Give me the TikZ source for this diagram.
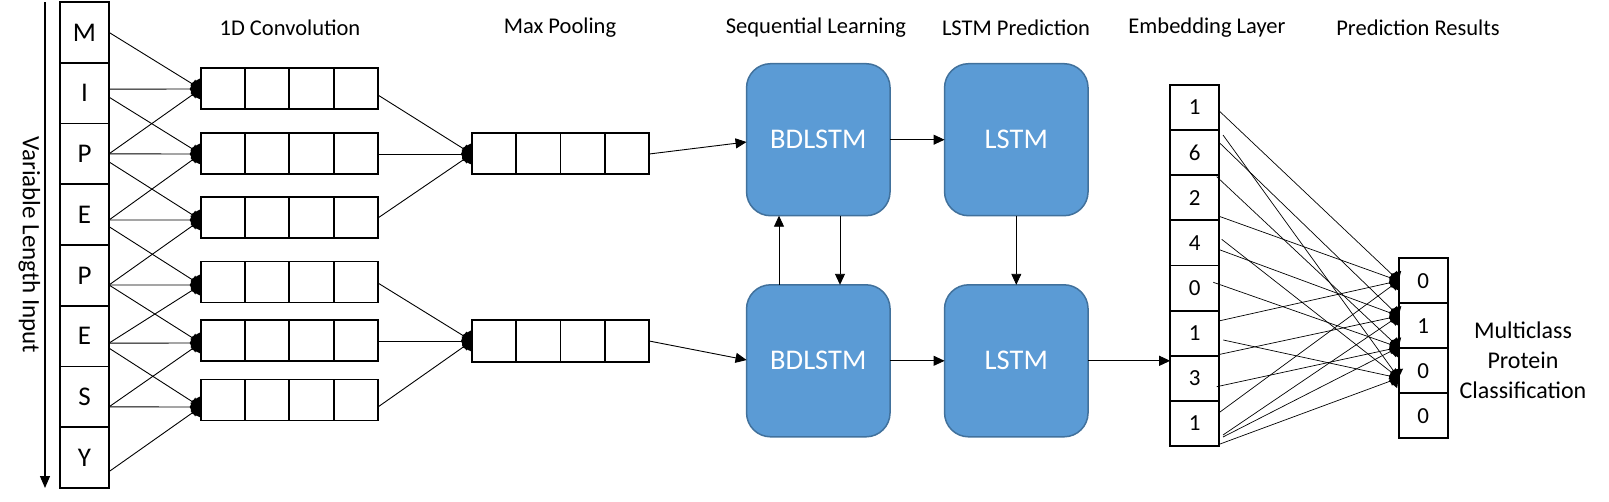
\documentclass[tikz,border=0pt]{standalone}
\usepackage{fontspec}
\setmainfont{Carlito}
\usetikzlibrary{arrows.meta,calc,decorations.markings}
\definecolor{boxblue}{HTML}{5B9BD5}
\definecolor{boxedge}{HTML}{41719C}
\begin{document}
\begin{tikzpicture}[x=1pt,y=-1pt,
  txt/.style={font=\fontsize{22.5}{27}\selectfont, inner sep=0pt},
  incell/.style={draw, line width=1.8pt, inner sep=0pt, outer sep=0pt, minimum width=49pt, minimum height=60.75pt, font=\fontsize{27}{30}\selectfont},
  emcell/.style={draw, line width=1.8pt, inner sep=0pt, outer sep=0pt, minimum width=49pt, minimum height=45.1pt, font=\fontsize{23}{27}\selectfont},
  rowbox/.style={draw, line width=1.8pt, inner sep=0pt, outer sep=0pt, minimum width=177.3pt, minimum height=41pt},
  lstmbox/.style={draw=boxedge, fill=boxblue, line width=1.5pt, rounded corners=24pt, inner sep=0pt, outer sep=0pt, minimum width=143.5pt, minimum height=152pt, text=white, font=\fontsize{28.5}{32}\selectfont},
  dconn/.style={line width=0.9pt, postaction={decorate}, decoration={markings, mark=at position 0.99999 with {\fill (0pt,0pt) -- (-5.5pt,9.5pt) -- (-11pt,0pt) -- (-5.5pt,-9.5pt) -- cycle;}}},
  econn/.style={line width=0.7pt, postaction={decorate}, decoration={markings, mark=at position 0.99999 with {\fill (0pt,0pt) -- (-5pt,9pt) -- (-10pt,0pt) -- (-5pt,-9pt) -- cycle;}}},
  tconn/.style={line width=0.9pt, -{Triangle[length=11pt,width=10pt]}}
  ]
\useasboundingbox (0,0) rectangle (1609,501);

% left arrow and label
\coordinate (atop) at (45,2);
\coordinate (abot) at (45,488);
\draw[line width=1.2pt, -{Triangle[length=12pt,width=10pt]}] (atop) -- (abot);
\node[txt, rotate=-90, font=\fontsize{25}{28}\selectfont] (vli) at (29.3,245) {Variable Length Input};

% input column
\foreach \t [count=\i] in {M,I,P,E,P,E,S,Y}
  \node[incell] (in\i) at (84.5,{2+60.75*(\i-0.5)}) {\t};

% conv boxes
\foreach \y [count=\i] in {88.5,153.5,217.5,282,340.5,400}
  \node[rowbox] (conv\i) at (289.3,\y) {};
% pooling boxes
\node[rowbox, minimum height=41.5pt] (pool1) at (560.5,153.5) {};
\node[rowbox, minimum height=41.5pt] (pool2) at (560.5,341) {};
\foreach \b in {conv1,conv2,conv3,conv4,conv5,conv6,pool1,pool2}
  \foreach \f in {0.25,0.5,0.75}
    \draw[line width=1.8pt] ($(\b.north west)!\f!(\b.north east)$) -- ($(\b.south west)!\f!(\b.south east)$);

% headers
\node[txt] (h1) at (290,28) {1D Convolution};
\node[txt] (h2) at (560,28) {Max Pooling};
\node[txt] (h3) at (816,28) {Sequential Learning};
\node[txt] (h4) at (1016,28) {LSTM Prediction};
\node[txt] (h5) at (1207,28) {Embedding Layer};
\node[txt] (h6) at (1418,28) {Prediction Results};

% input -> conv
\draw[dconn] (in1.east) -- ([yshift=-0.5pt]conv1.west);
\draw[dconn] ([yshift=4pt]in2.east) -- ([yshift=-0.5pt]conv1.west);
\draw[dconn] (in3.east) -- ([yshift=-0.5pt]conv1.west);

\draw[dconn] ([yshift=-4pt]in2.east) -- ([yshift=-0.5pt]conv2.west);
\draw[dconn] (in3.east) -- ([yshift=-0.5pt]conv2.west);
\draw[dconn] ([yshift=-5.4pt]in4.east) -- ([yshift=-0.5pt]conv2.west);

\draw[dconn] ([yshift=-8pt]in3.east) -- ([yshift=-2.5pt]conv3.west);
\draw[dconn] ([yshift=-5.4pt]in4.east) -- ([yshift=-2.5pt]conv3.west);
\draw[dconn] ([yshift=-9.6pt]in5.east) -- ([yshift=-2.5pt]conv3.west);

\draw[dconn] ([yshift=-12pt]in4.east) -- ([yshift=-3pt]conv4.west);
\draw[dconn] ([yshift=-9.6pt]in5.east) -- ([yshift=-3pt]conv4.west);
\draw[dconn] ([yshift=-7pt]in6.east) -- ([yshift=-3pt]conv4.west);

\draw[dconn] ([yshift=-9.6pt]in5.east) -- ([yshift=-2.5pt]conv5.west);
\draw[dconn] ([yshift=-7pt]in6.east) -- ([yshift=-2.5pt]conv5.west);
\draw[dconn] ([yshift=-10pt]in7.east) -- ([yshift=-2.5pt]conv5.west);

\draw[dconn] ([yshift=-12pt]in6.east) -- ([yshift=-7pt]conv6.west);
\draw[dconn] ([yshift=-10pt]in7.east) -- ([yshift=-7pt]conv6.west);
\draw[dconn] ([yshift=-14pt]in8.east) -- ([yshift=-7pt]conv6.west);

% conv -> pool
\draw[dconn] ([yshift=-6.5pt]conv1.east) -- ([yshift=-0.5pt]pool1.west);
\draw[dconn] ([yshift=-0.5pt]conv2.east) -- ([yshift=-0.5pt]pool1.west);
\draw[dconn] ([yshift=-0.5pt]conv3.east) -- ([yshift=-0.5pt]pool1.west);
\draw[dconn] ([yshift=-1pt]conv4.east) -- (pool2.west);
\draw[dconn] ([yshift=-0.5pt]conv5.east) -- (pool2.west);
\draw[dconn] ([yshift=-7pt]conv6.east) -- (pool2.west);

% LSTM blocks
\node[lstmbox] (bd1) at (818.3,139.7) {BDLSTM};
\node[lstmbox] (bd2) at (818.3,360.8) {BDLSTM};
\node[lstmbox] (ls1) at (1016.3,139.7) {LSTM};
\node[lstmbox] (ls2) at (1016.3,360.8) {LSTM};

\draw[tconn] ([yshift=-0.5pt]pool1.east) -- ([yshift=-2.3pt]bd1.west);
\draw[tconn] (pool2.east) -- ([yshift=0.8pt]bd2.west);
\draw[tconn] (bd1.east) -- (ls1.west);
\draw[tconn] (bd2.east) -- (ls2.west);
\draw[tconn] ([xshift=21.7pt]bd1.south) -- ([xshift=21.7pt]bd2.north);
\draw[tconn] ([xshift=-39.3pt]bd2.north) -- ([xshift=-39.3pt]bd1.south);
\draw[tconn] (ls1.south) -- (ls2.north);

% embedding column
\foreach \t [count=\i] in {1,6,2,4,0,1,3,1}
  \node[emcell] (em\i) at (1194.7,{85+45.125*(\i-0.5)}) {\t};
\draw[tconn] (ls2.east) -- (ls2.east -| em7.west);

% prediction column
\foreach \t [count=\i] in {0,1,0,0}
  \node[emcell, minimum height=45pt] (pr\i) at (1423.2,{258.3+45*(\i-0.5)}) {\t};

\node[txt, align=center, font=\fontsize{24}{30}\selectfont] (mpc) at (1523,360) {Multiclass\\Protein\\Classification};

% embedding -> prediction
\coordinate (T1) at (pr1.west);
\coordinate (T2) at ([yshift=9.8pt]pr2.west);
\coordinate (T3) at ([yshift=-21.5pt]pr2.west);
\coordinate (T4) at ([yshift=-7.2pt]pr3.west);

\coordinate (sA) at (1220,111.7);
\coordinate (sB) at (1223,135);
\coordinate (sC) at (1220,143.3);
\coordinate (sD) at (1216.7,176.7);
\coordinate (sE) at (1218.3,216);
\coordinate (sF) at (1221.7,239.3);
\coordinate (sG) at (1218.3,249.3);
\coordinate (sH) at (1213.3,282.3);
\coordinate (sI) at (1220,320.7);
\coordinate (sJ) at (1223.3,340);
\coordinate (sK) at (1220,354.3);
\coordinate (sL) at (1216.7,386.7);
\coordinate (sM) at (1220,412);
\coordinate (sN) at (1223,435);
\coordinate (sO) at (1223,437);
\coordinate (sP) at (1220,444);

\foreach \s/\t in {A/1,E/1,I/1,M/1,C/2,G/2,K/2,N/2,D/3,H/3,L/3,O/3,B/4,F/4,J/4,P/4}
  \draw[econn] (s\s) -- (T\t);
\end{tikzpicture}
\end{document}
